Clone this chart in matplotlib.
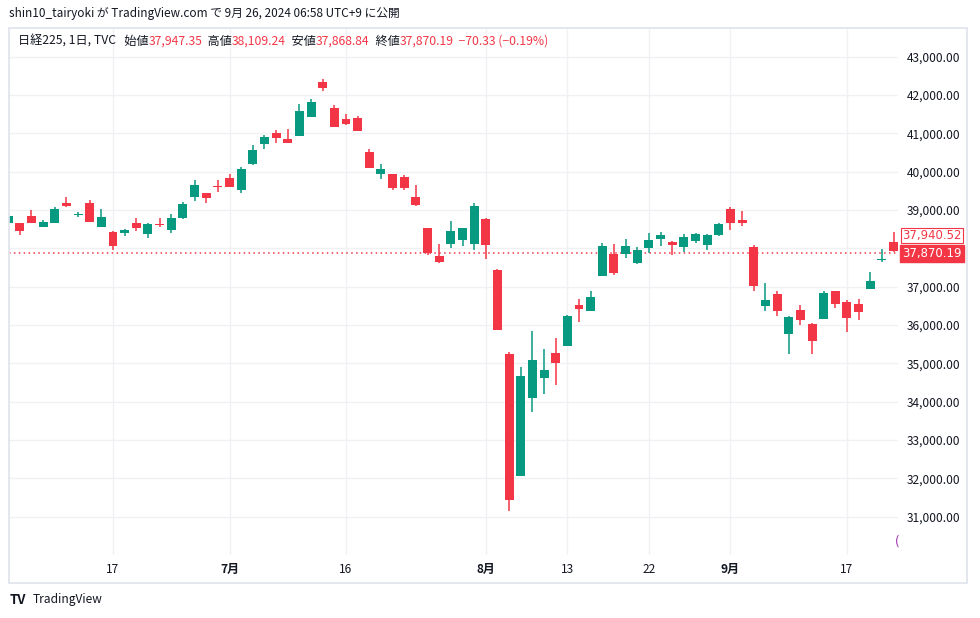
import numpy as np
import matplotlib
matplotlib.use('Agg')
import matplotlib.pyplot as plt
import matplotlib.transforms as mtransforms
from matplotlib.patches import Rectangle

plt.rcParams['font.family'] = ['Noto Sans CJK JP', 'DejaVu Sans']

# daily bars, 2024-06-04 .. 2024-09-25
opens = [38670, 38670, 38844, 38565, 38670, 39183, 38860, 39183, 38565, 38427,
         38409, 38662, 38383, 38620, 38487, 38800, 39348, 39444, 39610, 39836,
         39530, 40209, 40730, 41010, 40853, 40940, 41435, 42340, 41662, 41375,
         41401, 40514, 39948, 39940, 39862, 39340, 38531, 37801, 38122, 38226,
         38122, 38766, 37436, 35244, 32070, 34104, 34626, 35270, 35461, 36523,
         36374, 37287, 37853, 37845, 37626, 38009, 38253, 38166, 38036, 38192,
         38088, 38348, 39027, 38740, 38036, 36497, 36810, 35766, 36392, 36027,
         36157, 36888, 36601, 36549, 36940, 37700, 38166, 37947.35]
highs = [38870, 38670, 38999, 38740, 39071, 39348, 38948, 39262, 39027, 38453,
         38513, 38792, 38650, 38792, 38896, 39210, 39784, 39450, 39784, 39940,
         40122, 40697, 40957, 41088, 41114, 41766, 41896, 42418, 41740, 41505,
         41453, 40592, 40209, 39950, 39914, 39653, 38540, 38114, 38713, 38540,
         39183, 38780, 37462, 35296, 34905, 35844, 35375, 35662, 36250, 36679,
         36888, 38140, 38114, 38244, 38035, 38392, 38427, 38192, 38375, 38401,
         38375, 38662, 39079, 38975, 38088, 37096, 36888, 36244, 36523, 36053,
         36888, 36900, 36653, 36679, 37383, 37983, 38427, 38109.24]
lows = [38640, 38348, 38670, 38565, 38670, 39087, 38826, 38696, 38565, 37957,
        38330, 38461, 38278, 38550, 38409, 38766, 39244, 39191, 39479, 39600,
        39452, 40183, 40600, 40757, 40750, 40930, 41420, 42113, 41160, 41218,
        41060, 40100, 39817, 39530, 39530, 39113, 37835, 37626, 38017, 38070,
        37965, 37730, 35870, 31157, 32060, 33739, 34209, 34443, 35450, 36087,
        36360, 37280, 37313, 37757, 37600, 37879, 38070, 37827, 37905, 38140,
        37957, 38322, 38479, 38583, 36888, 36366, 36236, 35244, 36001, 35244,
        36150, 36445, 35818, 36131, 36930, 37652, 37905, 37868.84]
closes = [38844, 38453, 38670, 38687, 39027, 39113, 38880, 38696, 38818, 38070,
          38479, 38539, 38636, 38600, 38792, 39157, 39653, 39322, 39590, 39609,
          40070, 40566, 40905, 40887, 40757, 41583, 41818, 42191, 41174, 41244,
          41070, 40104, 40070, 39583, 39583, 39139, 37871, 37652, 38453, 38531,
          39105, 38096, 35878, 31443, 34670, 35087, 34826, 35017, 36236, 36426,
          36731, 38062, 37365, 38062, 37957, 38210, 38357, 38088, 38296, 38375,
          38348, 38636, 38662, 38662, 37018, 36653, 36374, 36218, 36131, 35583,
          36836, 36549, 36184, 36340, 37149, 37720, 37940.52, 37870.19]
prev_close = 37940.52

# x tick positions (bar index) and labels
tick_idx = [9, 19, 29, 41, 48, 55, 62, 72]
tick_labels = ['17', '7月', '16', '8月', '13', '22', '9月', '17']
price_ticks = list(range(31000, 43001, 1000))

UP = '#089981'
DOWN = '#F23645'
TXT = '#131722'
GRID = '#f0f1f4'

fig = plt.figure(figsize=(9.8, 6.18), dpi=100)
fig.patch.set_facecolor('white')


def fx(px):
    return px / 980.0


def fy(py):
    return 1 - py / 618.0


ax = fig.add_axes([fx(9), fy(555), fx(898) - fx(9), fy(28) - fy(555)])
ax.set_xlim(0.073, 76.38)
ax.set_ylim(30000, 43750)

o = np.array(opens)
h = np.array(highs)
l = np.array(lows)
c = np.array(closes)
x = np.arange(len(o))
cols = np.where(c >= o, UP, DOWN)

ax.vlines(x, l, h, colors=cols, linewidth=1.1, zorder=3)
body_h = np.maximum(np.abs(c - o), 30)
ax.bar(x, body_h, bottom=np.minimum(o, c), width=0.77, color=cols,
       linewidth=0, zorder=4)

# last price line
ax.axhline(c[-1], color=DOWN, linestyle=(0, (1, 2.2)), linewidth=1.1, zorder=2)

# scale labels that sit under the price boxes are hidden, as on TradingView
ylabels = []
for v in price_ticks:
    if abs(v - c[-1]) < 400 or abs(v - prev_close) < 400:
        ylabels.append('')
    else:
        ylabels.append('{:,.2f}'.format(v))
ax.set_yticks(price_ticks)
ax.set_yticklabels(ylabels)
ax.yaxis.tick_right()
ax.set_xticks(tick_idx)
ax.set_xticklabels(tick_labels)
ax.tick_params(axis='both', length=0, labelsize=8.6, colors=TXT)
ax.tick_params(axis='y', pad=6)
ax.tick_params(axis='x', pad=6)
for lab in ax.get_xticklabels():
    if '月' in lab.get_text():
        lab.set_fontweight('bold')
ax.grid(True, color=GRID, linewidth=1)
ax.set_axisbelow(True)
for s in ax.spines.values():
    s.set_visible(False)

# price labels on the scale
trans = mtransforms.blended_transform_factory(ax.transAxes, ax.transData)
ax.text(1.0045, c[-1], '{:,.2f}'.format(c[-1]), transform=trans, color='white',
        fontsize=8.4, family='DejaVu Sans', va='center', ha='left', clip_on=False,
        zorder=6, bbox=dict(boxstyle='square,pad=0.2', facecolor=DOWN, edgecolor=DOWN))
ax.annotate('{:,.2f}'.format(prev_close), xy=(1.0045, c[-1]), xycoords=trans,
            xytext=(0, 13.0), textcoords='offset points', color=DOWN,
            fontsize=8.4, family='DejaVu Sans', va='center', ha='left',
            annotation_clip=False, zorder=5,
            bbox=dict(boxstyle='square,pad=0.1', facecolor='white', edgecolor=DOWN,
                      linewidth=0.8))

# frame
fig.add_artist(Rectangle((fx(9), fy(583)), fx(967) - fx(9), fy(28) - fy(583),
                         transform=fig.transFigure, fill=False,
                         edgecolor='#e0e3eb', linewidth=1.2))

fig.text(fx(9), fy(14), 'shin10_tairyoki が TradingView.com で 9月 26, 2024 06:58 UTC+9 に公開',
         fontsize=8.5, color=TXT, va='center', ha='left')

# symbol / OHLC row, pieces placed one after the other
chg = c[-1] - prev_close
pct = chg / prev_close * 100
parts = [('日経225, 1日, TVC', TXT), ('   始値', TXT), ('{:,.2f}'.format(o[-1]), DOWN),
         ('  高値', TXT), ('{:,.2f}'.format(h[-1]), DOWN),
         ('  安値', TXT), ('{:,.2f}'.format(l[-1]), DOWN),
         ('  終値', TXT), ('{:,.2f}'.format(c[-1]), DOWN),
         ('  {:.2f} ({:.2f}%)'.format(chg, pct).replace('-', '−'), DOWN)]
rend = fig.canvas.get_renderer()
xpos = fx(18)
for txt, col in parts:
    t = fig.text(xpos, fy(41), txt, fontsize=8.75, color=col, va='center', ha='left')
    xpos = t.get_window_extent(rend).x1 / fig.bbox.width

fig.text(fx(895), fy(541), '(', fontsize=9, color='#9c27b0', va='center', ha='left')

fig.text(fx(10), fy(600), 'TV', fontsize=9.5, color=TXT, fontweight='bold',
         va='center', ha='left')
fig.text(fx(33), fy(600), 'TradingView', fontsize=8.6, color=TXT, va='center', ha='left')

fig.savefig('out.png', dpi=100)
